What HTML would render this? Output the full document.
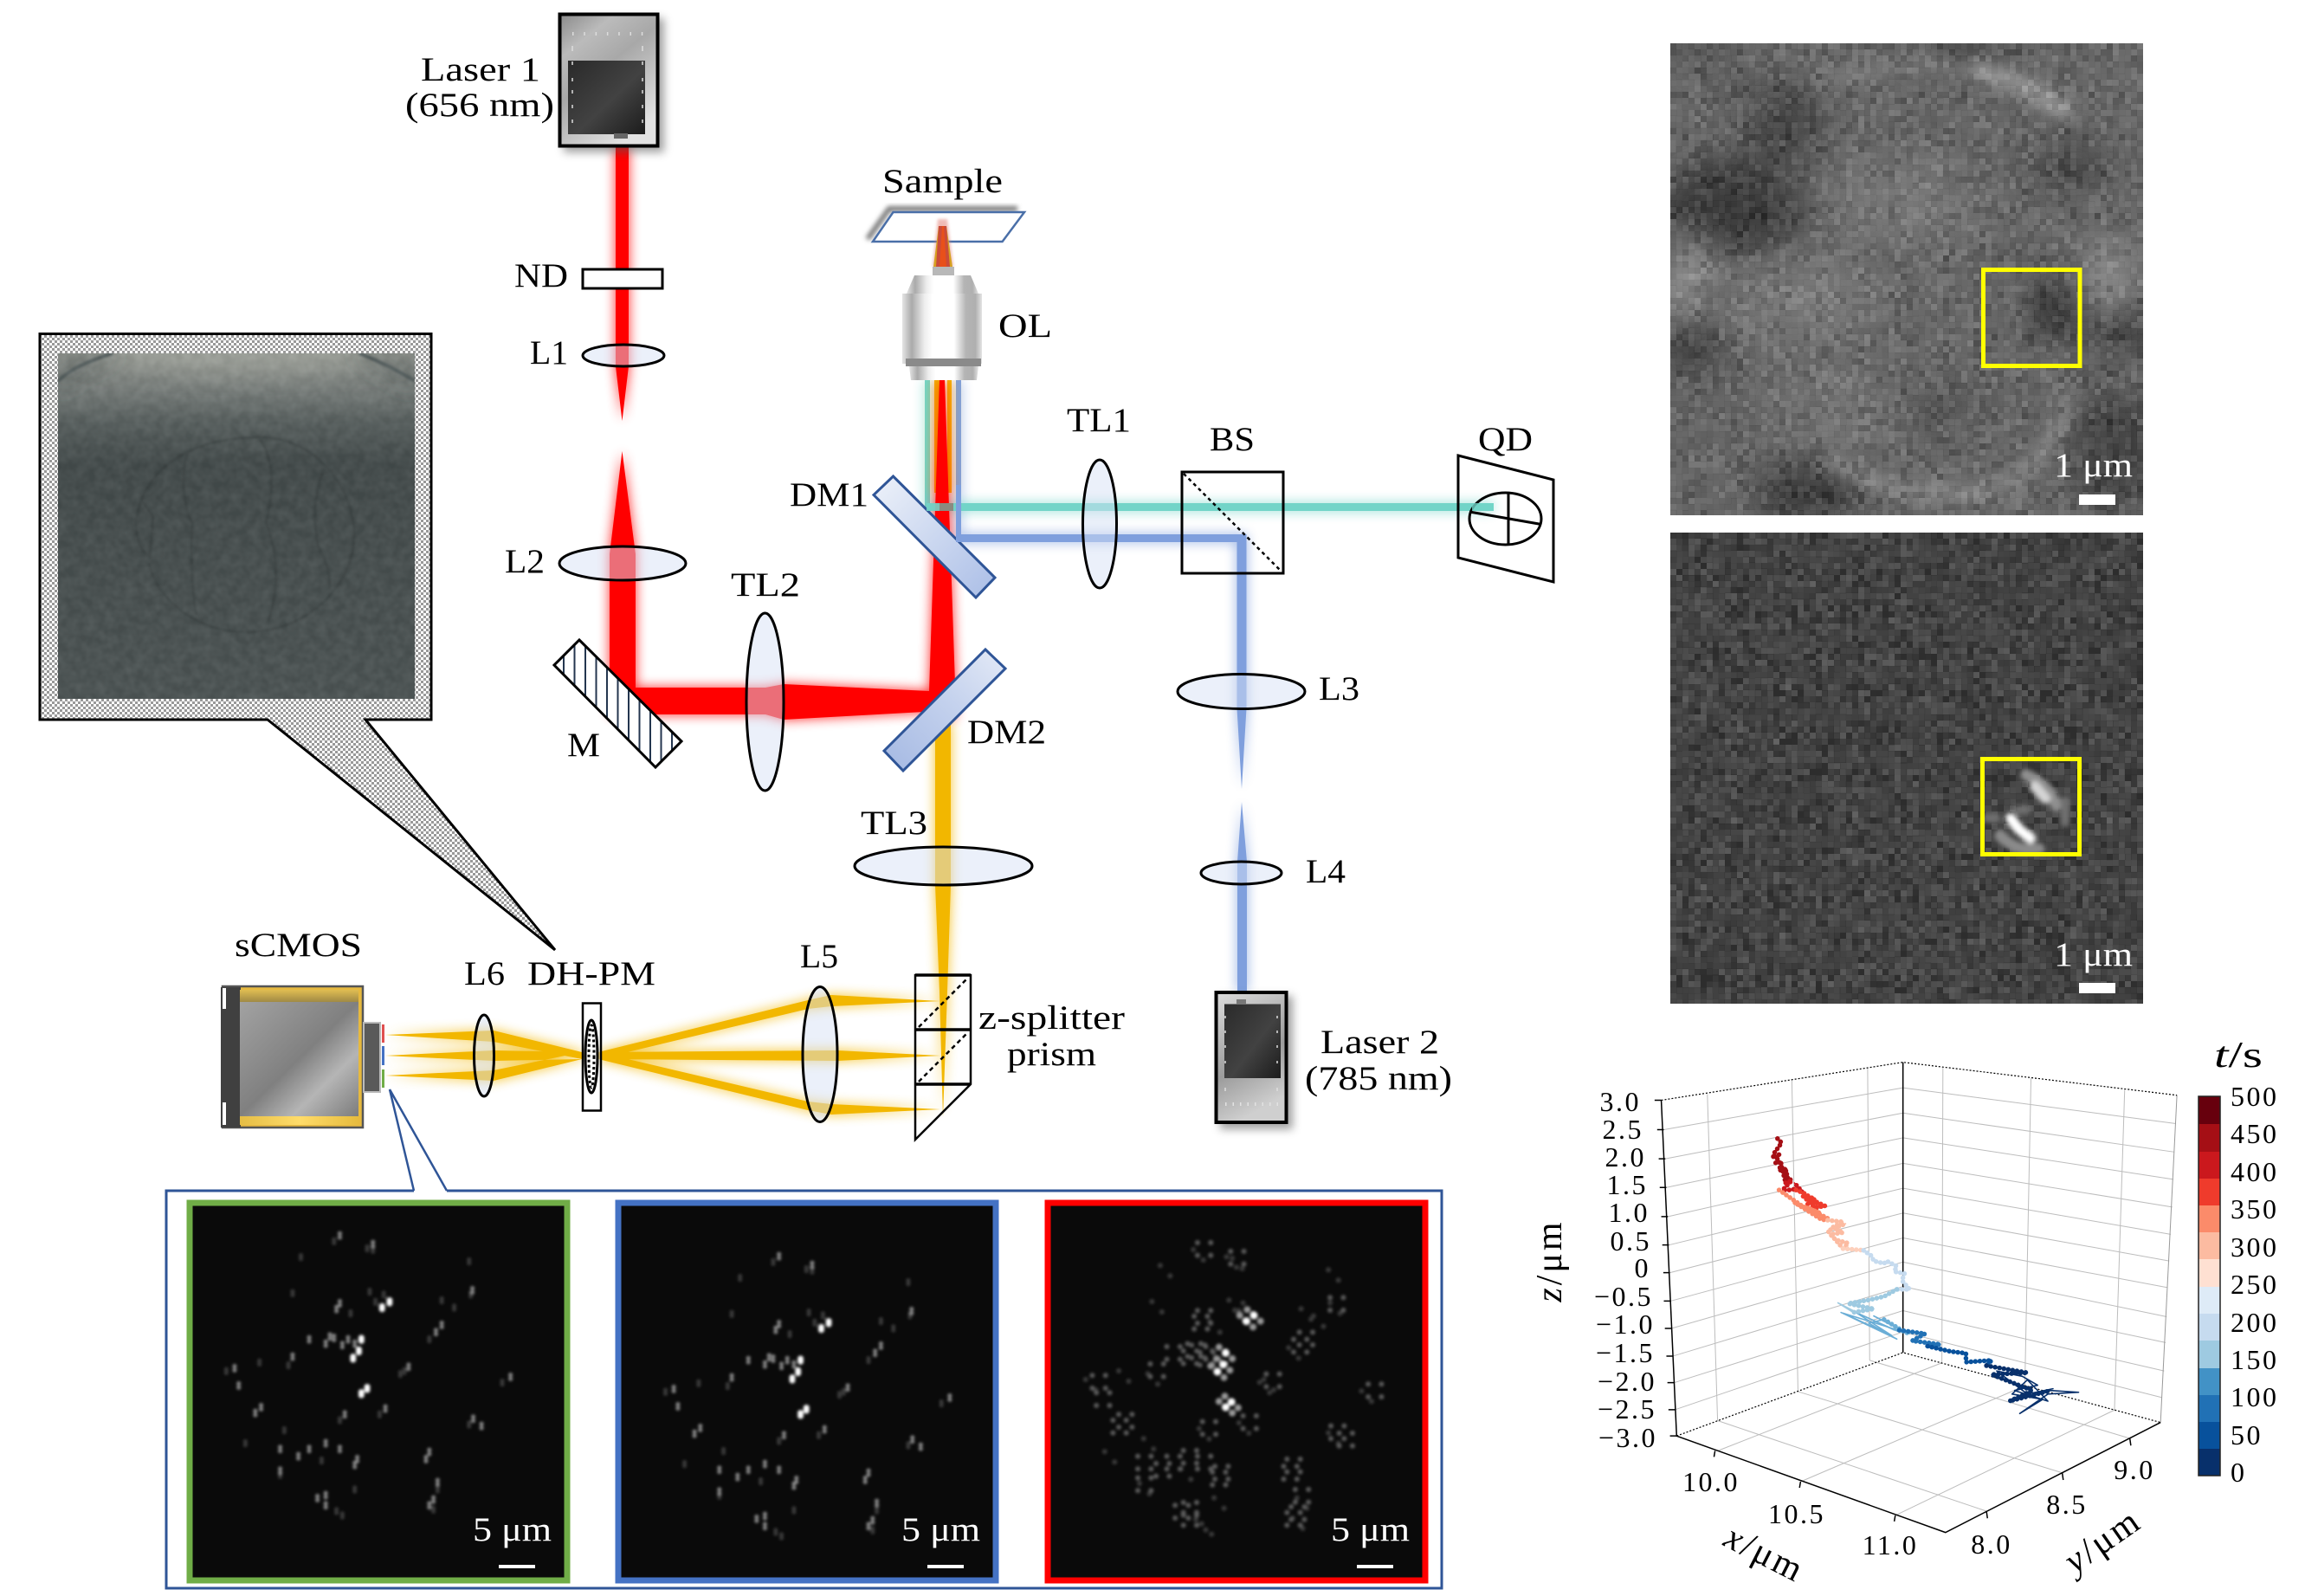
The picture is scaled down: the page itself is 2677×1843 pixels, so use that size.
<!DOCTYPE html>
<html><head><meta charset="utf-8"><style>
html,body{margin:0;padding:0;background:#fff}
svg{display:block}
text{font-family:"Liberation Serif",serif;font-size:39px;fill:#000}
.t{font-size:32px;letter-spacing:2.5px}
.e{text-anchor:end}.m{text-anchor:middle}
.n{vector-effect:non-scaling-stroke;fill:none}
</style></head><body>
<svg width="2677" height="1843" viewBox="0 0 2677 1843" xmlns="http://www.w3.org/2000/svg">
<defs>
<filter id="glow" filterUnits="userSpaceOnUse" x="0" y="0" width="2677" height="1843" color-interpolation-filters="sRGB">
<feGaussianBlur in="SourceGraphic" stdDeviation="7" result="bc"/>
<feComponentTransfer in="bc" result="bd"><feFuncA type="linear" slope=".85"/></feComponentTransfer>
<feMerge><feMergeNode in="bd"/><feMergeNode in="SourceGraphic"/></feMerge>
</filter>
<filter id="b1" x="-20%" y="-20%" width="140%" height="140%"><feGaussianBlur stdDeviation="1.7"/></filter>
<filter id="b2" x="-20%" y="-20%" width="140%" height="140%"><feGaussianBlur stdDeviation="2.6"/></filter>
<filter id="b3" x="-30%" y="-30%" width="160%" height="160%"><feGaussianBlur stdDeviation="5"/></filter>
<filter id="b4" filterUnits="userSpaceOnUse" x="1900" y="0" width="777" height="1200"><feGaussianBlur stdDeviation="20"/></filter>
<filter id="b5" filterUnits="userSpaceOnUse" x="1900" y="0" width="777" height="1200"><feGaussianBlur stdDeviation="9"/></filter>
<filter id="b6" filterUnits="userSpaceOnUse" x="40" y="380" width="470" height="460"><feGaussianBlur stdDeviation="13"/></filter>
<filter id="b7" filterUnits="userSpaceOnUse" x="40" y="380" width="470" height="460"><feGaussianBlur stdDeviation="1.2"/></filter>
<filter id="noise" filterUnits="userSpaceOnUse" primitiveUnits="userSpaceOnUse" x="1929" y="50" width="546" height="545" color-interpolation-filters="sRGB">
<feTurbulence type="fractalNoise" baseFrequency="0.45" numOctaves="1" seed="4"/>
<feColorMatrix type="matrix" values="2 0 0 0 -.5  2 0 0 0 -.5  2 0 0 0 -.5  0 0 0 0 1" result="n"/>
<feFlood x="1932" y="53" width="1" height="1" flood-color="#000"/>
<feComposite x="1929" y="50" width="7" height="7"/>
<feTile x="1929" y="50" width="546" height="545" result="a"/>
<feComposite in="n" in2="a" operator="in"/>
<feMorphology operator="dilate" radius="3"/>
<feColorMatrix type="matrix" values="1 0 0 0 0  0 1 0 0 0  0 0 1 0 0  0 0 0 0 .2"/>
</filter>
<filter id="noise2" filterUnits="userSpaceOnUse" primitiveUnits="userSpaceOnUse" x="1929" y="615" width="546" height="544" color-interpolation-filters="sRGB">
<feTurbulence type="fractalNoise" baseFrequency="0.45" numOctaves="1" seed="11"/>
<feColorMatrix type="matrix" values="2 0 0 0 -.7  2 0 0 0 -.7  2 0 0 0 -.7  0 0 0 0 1" result="n"/>
<feFlood x="1932" y="618" width="1" height="1" flood-color="#000"/>
<feComposite x="1929" y="615" width="7" height="7"/>
<feTile x="1929" y="615" width="546" height="544" result="a"/>
<feComposite in="n" in2="a" operator="in"/>
<feMorphology operator="dilate" radius="3"/>
<feColorMatrix type="matrix" values="1 0 0 0 0  0 1 0 0 0  0 0 1 0 0  0 0 0 0 .22"/>
</filter>
<filter id="noise3" x="0" y="0" width="100%" height="100%" color-interpolation-filters="sRGB">
<feTurbulence type="fractalNoise" baseFrequency="0.09" numOctaves="2" seed="7"/>
<feColorMatrix type="matrix" values="1.2 0 0 0 -.3  1.2 0 0 0 -.3  1.2 0 0 0 -.3  0 0 0 0 .08"/>
</filter>
<pattern id="chk" width="6" height="6" patternUnits="userSpaceOnUse"><rect width="6" height="6" fill="#fff"/><rect width="3" height="3" fill="#999"/><rect x="3" y="3" width="3" height="3" fill="#999"/></pattern>
<pattern id="hatch" width="12.5" height="12" patternUnits="userSpaceOnUse"><rect width="12.5" height="12" fill="#fff"/><rect x="0" width="2" height="12" fill="#24364f"/></pattern>
<linearGradient id="dm1" gradientUnits="userSpaceOnUse" x1="1020" y1="560" x2="1138" y2="678"><stop offset="0" stop-color="#e9eef8"/><stop offset=".5" stop-color="#ccd8f0"/><stop offset="1" stop-color="#b0c2e8"/></linearGradient>
<linearGradient id="dm2" gradientUnits="userSpaceOnUse" x1="1030" y1="878" x2="1150" y2="760"><stop offset="0" stop-color="#a9bce4"/><stop offset=".6" stop-color="#c6d3ee"/><stop offset="1" stop-color="#dfe6f5"/></linearGradient>
<linearGradient id="l1g" x1="0" y1="0" x2=".6" y2="1"><stop offset="0" stop-color="#8a8a8a"/><stop offset=".25" stop-color="#bbb"/><stop offset=".5" stop-color="#a8a8a8"/><stop offset="1" stop-color="#e2e2e2"/></linearGradient>
<linearGradient id="l2g" x1="0" y1="0" x2=".3" y2="1"><stop offset="0" stop-color="#dcdcdc"/><stop offset=".62" stop-color="#9c9c9c"/><stop offset=".8" stop-color="#b4b4b4"/><stop offset="1" stop-color="#cfcfcf"/></linearGradient>
<linearGradient id="ld" x1="0" y1="0" x2="1" y2="1"><stop offset="0" stop-color="#2a2a2a"/><stop offset=".55" stop-color="#424242"/><stop offset="1" stop-color="#1c1c1c"/></linearGradient>
<linearGradient id="ob"><stop offset="0" stop-color="#e4e4e4"/><stop offset=".12" stop-color="#aaa"/><stop offset=".28" stop-color="#eee"/><stop offset=".38" stop-color="#fff"/><stop offset=".65" stop-color="#fff"/><stop offset=".8" stop-color="#b4b4b4"/><stop offset=".92" stop-color="#b0b0b0"/><stop offset="1" stop-color="#e4e4e4"/></linearGradient>
<linearGradient id="cg" x1="0" y1="0" x2="1" y2="1"><stop offset="0" stop-color="#a2a2a2"/><stop offset=".28" stop-color="#8f8f8f"/><stop offset=".5" stop-color="#808080"/><stop offset=".72" stop-color="#b5b5b5"/><stop offset="1" stop-color="#7c7c7c"/></linearGradient>
<linearGradient id="gold" x1="0" y1="0" x2="0" y2="1"><stop offset="0" stop-color="#e0bd52"/><stop offset="1" stop-color="#a08a45"/></linearGradient>
<linearGradient id="gold2"><stop offset="0" stop-color="#e5bd45"/><stop offset=".5" stop-color="#ffdc6a"/><stop offset="1" stop-color="#e6bb3e"/></linearGradient>
<linearGradient id="sky" x1="0" y1="0" x2="0" y2="1"><stop offset="0" stop-color="#8b8f8a"/><stop offset=".1" stop-color="#7c827f"/><stop offset=".2" stop-color="#5a6261"/><stop offset=".32" stop-color="#454d4d"/><stop offset="1" stop-color="#4e5656"/></linearGradient>
<clipPath id="cI"><rect x="1929" y="50" width="546" height="545"/></clipPath>
<clipPath id="cJ"><rect x="1929" y="615" width="546" height="544"/></clipPath>
<clipPath id="cK"><rect x="67" y="408" width="412" height="399"/></clipPath>
<clipPath id="c1"><rect x="222" y="1392" width="430" height="430"/></clipPath>
<clipPath id="c2"><rect x="717" y="1392" width="430" height="430"/></clipPath>
<clipPath id="c3"><rect x="1213" y="1392" width="430" height="430"/></clipPath>
<path id="sB" vector-effect="non-scaling-stroke" d="M282 400h.01M273 420h.01M248 530h.01M245 570h.01M238 595h.01M255 700h.01M248 718h.01"/>
<path id="sM" vector-effect="non-scaling-stroke" d="M222 170h.01M262 200h.01M222 405h.01M218 425h.01M215 525h.01M232 530h.01M205 545h.01M225 550h.01M185 530h.01M345 480h.01M382 360h.01M338 505h.01M165 590h.01M127 765h.01M120 785h.01M383 805h.01M393 830h.01M330 920h.01M326 945h.01M185 910h.01M172 935h.01M205 890h.01M222 910h.01M243 945h.01M240 965h.01M205 1070h.01M195 1080h.01M205 1105h.01M335 1085h.01M330 1105h.01M340 1025h.01M277 770h.01M228 790h.01M305 625h.01M95 630h.01M100 690h.01M428 660h.01M150 910h.01M150 985h.01M240 545h.01M210 520h.01"/>
<path id="sF" vector-effect="non-scaling-stroke" d="M175 245h.01M165 370h.01M378 260h.01M258 365h.01M275 375h.01M345 395h.01M360 420h.01M330 530h.01M125 610h.01M85 640h.01M270 790h.01M222 810h.01M155 845h.01M108 890h.01M378 825h.01M218 1125h.01M240 1050h.01M340 1050h.01M418 680h.01M262 220h.01M300 640h.01M160 620h.01M215 190h.01M255 215h.01M380 375h.01M235 440h.01M200 950h.01M150 1000h.01M225 1140h.01M335 1120h.01M295 650h.01M265 400h.01"/>
</defs>

<rect width="2677" height="1843" fill="#fff"/>

<!-- beams -->
<g filter="url(#glow)">
<path fill="#7f9fdd" d="M1104 439h6V626h-6zM1104 617H1439.5V779H1428.5V626H1104zM1428.5 779H1439.5V818L1434 911 1428.5 818zM1434 926L1440 995V1144H1429V995z"/>
<path fill="#72d4c8" d="M1068 439h6V590h-6zM1068 581H1725V590H1068z"/>
</g>
<g filter="url(#glow)">
<path fill="#f2b700" d="M1079 439h6v130h-6zM1094 439h5v130h-5zM1080 835H1098V1022L1094 1145 1089 1290 1085 1145 1080 1022z"/>
<path fill="#f2b700" d="M445 1195L570 1190 672 1215V1223L570 1203zM445 1219L570 1213 672 1215V1223L570 1225zM445 1242L570 1248 672 1223V1215L570 1236zM691 1215L933 1155 960 1149 1086 1156 960 1162 933 1165 691 1223zM691 1215L967 1213 1086 1219 967 1225 691 1223zM691 1215L933 1272 960 1275 1086 1281 960 1287 933 1282 691 1223z"/>
</g>
<g filter="url(#glow)">
<path fill="#ff0000" d="M711 170H726V423L718.5 486 711 423zM718.5 521L734 640V794H862V825H704V640z"/>
<path fill="#ff0000" d="M862 794H884L905 790 1073 798 1085 439H1091L1103 790V830L1067 822 905 831 884 825H862z"/>
</g>

<!-- Laser 1 -->
<rect x="651" y="21" width="116" height="155" fill="#555" opacity=".55" filter="url(#b3)"/>
<rect x="646.5" y="16.5" width="113" height="152" fill="url(#l1g)" stroke="#000" stroke-width="4"/>
<rect x="656" y="70" width="89" height="85" fill="url(#ld)"/>
<rect x="709" y="154" width="16" height="6" fill="#666"/>
<path d="M661 39H745" stroke="#ddd" stroke-width="4" stroke-dasharray="1.5 11.8" fill="none"/>
<path d="M661 53v6M742 53v6M661 71v4M742 71v4M661 90v4M742 90v4M661 104v4M742 104v4M661 121v4M742 121v4M661 138v4M742 138v4" stroke="#ddd" stroke-width="1.5" fill="none"/>
<!-- ND -->
<rect x="673" y="311" width="92" height="22" fill="#fff" stroke="#000" stroke-width="3"/>
<!-- lenses -->
<g fill="rgb(214,224,245)" fill-opacity=".49" stroke="#000" stroke-width="3">
<ellipse cx="720" cy="410.5" rx="47" ry="12.5"/>
<ellipse cx="719" cy="650.5" rx="73" ry="19.5"/>
<ellipse cx="883.5" cy="810.5" rx="21.5" ry="102.5"/>
<ellipse cx="1270" cy="605" rx="19.5" ry="74"/>
<ellipse cx="1433.5" cy="798.5" rx="73.5" ry="20"/>
<ellipse cx="1433.5" cy="1008" rx="46.5" ry="13"/>
<ellipse cx="1089.5" cy="1000" rx="102.5" ry="22"/>
<ellipse cx="947" cy="1217.5" rx="20" ry="78"/>
<ellipse cx="559" cy="1219" rx="11.5" ry="47"/>
</g>
<!-- Mirror -->
<path d="M669 739L787 856 757 886 640 768z" fill="url(#hatch)" stroke="#000" stroke-width="3"/>
<!-- DMs -->
<path d="M1031.5 550L1149 667 1127 690 1009 571.5z" fill="url(#dm1)" stroke="#2f5597" stroke-width="3"/>
<path d="M1138 750L1161 772 1043 890 1021 867z" fill="url(#dm2)" stroke="#2f5597" stroke-width="3"/>
<!-- horizontal beams over DM1 -->
<rect x="1070" y="581" width="40" height="9" fill="#72d4c8" opacity=".9"/>
<rect x="1085" y="581" width="16" height="9" fill="#8a8a80"/>
<path d="M1104 560h6V626h-6zM1104 617H1150V626H1104z" fill="#7f9fdd"/>
<!-- Sample -->
<path d="M1002 276L1027 241H1175" stroke="#777" stroke-width="6" fill="none" filter="url(#b2)"/>
<path d="M1031.5 245H1183L1157.6 279H1008z" fill="#fff" stroke="#4a6fa8" stroke-width="2.5"/>
<path d="M1077 308L1083 253H1094L1101 308z" fill="#e07a70" opacity=".5" filter="url(#b1)"/>
<path d="M1078 308H1100L1093 261H1084z" fill="#d6a020"/>
<path d="M1081 308H1097L1093 261H1084z" fill="#c94b3a"/>
<path d="M1085 308H1093L1090 261H1088z" fill="#e8501a"/>
<!-- OL -->
<rect x="1077" y="308" width="25" height="10" fill="#b8b8b8"/>
<path d="M1056 318H1121L1130 339H1047z" fill="url(#ob)"/>
<rect x="1042" y="339" width="92" height="81" fill="url(#ob)"/>
<rect x="1046" y="414" width="87" height="9" fill="#8a8a8a"/>
<path d="M1050 423H1130L1128 439H1052z" fill="url(#ob)"/>
<!-- BS -->
<rect x="1365" y="545" width="117" height="117" fill="none" stroke="#000" stroke-width="3"/>
<path d="M1367 547L1480 660" stroke="#000" stroke-width="2.5" stroke-dasharray="4 4" fill="none"/>
<!-- QD -->
<path d="M1684 526L1794 554V672L1684 644z" fill="none" stroke="#000" stroke-width="3"/>
<ellipse cx="1738.5" cy="599" rx="41.5" ry="30" fill="none" stroke="#000" stroke-width="3"/>
<path d="M1742 569V629M1697 591L1780 605.5" stroke="#000" stroke-width="3" fill="none"/>
<rect x="1700" y="581" width="25" height="9" fill="#72d4c8" opacity=".8"/>
<!-- prism -->
<path d="M1057 1126H1121V1252L1057 1316z" fill="none" stroke="#000" stroke-width="2.5"/>
<path d="M1057 1189H1121M1057 1252H1121M1057 1126H1121" fill="none" stroke="#000" stroke-width="3.5"/>
<path d="M1061 1186L1118 1129M1061 1249L1118 1192" stroke="#000" stroke-width="2.5" stroke-dasharray="5 4" fill="none"/>
<!-- DH-PM -->
<rect x="673" y="1158.5" width="21" height="124" fill="#fff" fill-opacity=".5" stroke="#000" stroke-width="2.5"/>
<ellipse cx="683" cy="1220" rx="7" ry="42" fill="#fff" stroke="#000" stroke-width="3"/>
<ellipse cx="683" cy="1220" rx="3" ry="36" fill="#fff" stroke="#000" stroke-width="3" stroke-dasharray="3 3"/>
<!-- sCMOS -->
<path d="M250 1132H412" stroke="#555" stroke-width="14" filter="url(#b2)" fill="none"/>
<path d="M250 1135V1300" stroke="#666" stroke-width="10" filter="url(#b2)" fill="none"/>
<rect x="257" y="1139" width="162" height="163" fill="#e7b93f" stroke="#555" stroke-width="2.5"/>
<rect x="255" y="1140" width="23" height="162" fill="#404040"/>
<path d="M257 1141h4v24h-4zM257 1273h4v26h-4z" fill="#fff"/>
<rect x="277" y="1143" width="137" height="14" fill="url(#gold)"/>
<rect x="277" y="1157" width="137" height="132" fill="url(#cg)"/>
<rect x="277" y="1289" width="137" height="10" fill="url(#gold2)"/>
<rect x="420" y="1181" width="19" height="80" fill="#5a5a5a" stroke="#bbb" stroke-width="2"/>
<rect x="441" y="1183" width="3" height="21" fill="#e05050"/>
<rect x="441" y="1208" width="3" height="22" fill="#4472c4"/>
<rect x="441" y="1235" width="3" height="21" fill="#70ad47"/>
<!-- Laser 2 -->
<rect x="1409" y="1150" width="84" height="154" fill="#555" opacity=".55" filter="url(#b3)"/>
<rect x="1404.5" y="1146" width="81" height="150" fill="url(#l2g)" stroke="#000" stroke-width="4"/>
<rect x="1414" y="1159.5" width="65" height="85.5" fill="url(#ld)"/>
<rect x="1428" y="1154" width="11" height="6" fill="#777"/>
<path d="M1415 1275H1478" stroke="#e2e2e2" stroke-width="4" stroke-dasharray="1.5 7" fill="none"/>
<path d="M1415 1173v3M1475 1173v3M1415 1190v3M1475 1190v3M1415 1207v3M1475 1207v3M1415 1225v3M1475 1225v3M1415 1256v4M1475 1256v4" stroke="#ddd" stroke-width="1.5" fill="none"/>

<!-- callout -->
<path d="M46 385.5H498V831H422L641 1097 309 831H46z" fill="url(#chk)"/>
<path d="M309 831H46V385.5H498V831H422L641 1097z" fill="none" stroke="#000" stroke-width="3"/>
<rect x="67" y="408" width="412" height="399" fill="url(#sky)"/>
<g clip-path="url(#cK)">
<ellipse cx="275" cy="400" rx="190" ry="30" fill="#a2a69f" filter="url(#b6)"/>
<path d="M67 445Q85 422 130 406M479 445Q450 420 415 406" stroke="#4a5351" stroke-width="8" fill="none" filter="url(#b6)"/>
<path d="M67 440Q85 422 130 408M479 440Q450 422 415 408" stroke="#566060" stroke-width="4" fill="none" filter="url(#b7)"/>
<g fill="none" stroke="#2b3232" stroke-width="3" opacity=".32" filter="url(#b7)">
<path d="M163 577C185 525 240 505 300 505C370 505 409 570 409 617C409 680 350 730 285 730C225 730 180 690 172 650"/>
<path d="M217 523C208 540 212 590 222 603C220 640 222 690 227 710"/>
<path d="M300 507C320 535 314 580 307 603C322 640 322 680 310 717"/>
<path d="M375 540C362 570 362 600 367 630C378 650 382 665 380 680"/>
<path d="M163 577L177 597L173 643C160 635 157 620 157 600Z"/>
</g>
<rect x="67" y="408" width="412" height="399" filter="url(#noise3)"/>
</g>

<!-- big frame -->
<path d="M478 1375H192V1834H1665V1375H516" fill="none" stroke="#2f5597" stroke-width="3"/>
<path d="M450 1258L478 1375M450 1258L516 1375" stroke="#2f5597" stroke-width="2.5" fill="none"/>

<!-- panels -->
<rect x="219" y="1389" width="436" height="436" fill="#0a0a0a" stroke="#70ad47" stroke-width="7"/>
<rect x="714" y="1389" width="436" height="436" fill="#0a0a0a" stroke="#4472c4" stroke-width="7"/>
<rect x="1210" y="1389" width="436" height="436" fill="#0a0a0a" stroke="#ff0000" stroke-width="7"/>
<g clip-path="url(#c1)"><g filter="url(#b1)" fill="none" stroke-linecap="round">
<g transform="matrix(.957,0,0,.3333,180,1370)">
<use href="#sF" y="-6" stroke="#3e3e3e" stroke-width="5"/>
<use href="#sF" y="6" stroke="#3e3e3e" stroke-width="5"/>
<use href="#sM" y="-7" stroke="#8c8c8c" stroke-width="5"/>
<use href="#sM" y="7" stroke="#8c8c8c" stroke-width="5"/>
<use href="#sB" y="-5" stroke="#fff" stroke-width="7"/>
<use href="#sB" y="5" stroke="#fff" stroke-width="7"/>
</g>
</g></g>
<g clip-path="url(#c2)"><g filter="url(#b1)" fill="none" stroke-linecap="round">
<g transform="matrix(.957,0,0,.3333,180,1370) translate(530,72)">
<use href="#sF" y="-6" stroke="#3e3e3e" stroke-width="5"/>
<use href="#sF" y="6" stroke="#3e3e3e" stroke-width="5"/>
<use href="#sM" y="-7" stroke="#8c8c8c" stroke-width="5"/>
<use href="#sM" y="7" stroke="#8c8c8c" stroke-width="5"/>
<use href="#sB" y="-5" stroke="#fff" stroke-width="7"/>
<use href="#sB" y="5" stroke="#fff" stroke-width="7"/>
</g>
</g></g>
<g clip-path="url(#c3)"><g filter="url(#b1)" fill="none" stroke-linecap="round">
<g transform="matrix(.957,0,0,.3333,180,1370) translate(1043,47)">
<use href="#sF" x="-6" y="-18" stroke="#3a3a3a" stroke-width="6"/>
<use href="#sF" x="6" y="18" stroke="#3a3a3a" stroke-width="6"/>
<use href="#sM" x="-8" y="-22" stroke="#5c5c5c" stroke-width="6"/>
<use href="#sM" x="8" y="-22" stroke="#5c5c5c" stroke-width="6"/>
<use href="#sM" x="-8" y="22" stroke="#5c5c5c" stroke-width="6"/>
<use href="#sM" x="8" y="22" stroke="#5c5c5c" stroke-width="6"/>
<use href="#sB" x="-8" y="-20" stroke="#999" stroke-width="8"/>
<use href="#sB" x="8" y="20" stroke="#999" stroke-width="8"/>
<use href="#sB" stroke="#fff" stroke-width="9"/>
</g>
</g></g>
<g fill="#fff">
<rect x="576" y="1807" width="42" height="4"/><rect x="1071" y="1807" width="42" height="4"/><rect x="1567" y="1807" width="42" height="4"/>
</g>
<text x="546" y="1779" textLength="91" lengthAdjust="spacingAndGlyphs" style="fill:#fff">5 μm</text>
<text x="1041" y="1779" textLength="91" lengthAdjust="spacingAndGlyphs" style="fill:#fff">5 μm</text>
<text x="1537" y="1779" textLength="91" lengthAdjust="spacingAndGlyphs" style="fill:#fff">5 μm</text>

<!-- top right image -->
<g clip-path="url(#cI)">
<rect x="1929" y="50" width="546" height="545" fill="#5c5c5c"/>
<g filter="url(#b4)">
<ellipse cx="2000" cy="240" rx="85" ry="55" fill="#282828"/>
<ellipse cx="2060" cy="140" rx="50" ry="50" fill="#383838"/>
<ellipse cx="2375" cy="355" rx="36" ry="38" fill="#222"/>
<ellipse cx="2390" cy="190" rx="50" ry="30" fill="#3a3a3a"/>
<ellipse cx="2265" cy="60" rx="70" ry="20" fill="#3a3a3a"/>
<ellipse cx="1950" cy="400" rx="35" ry="35" fill="#2e2e2e"/>
<ellipse cx="2450" cy="380" rx="35" ry="28" fill="#2c2c2c"/>
<ellipse cx="2440" cy="520" rx="50" ry="70" fill="#303030"/>
<ellipse cx="2085" cy="570" rx="60" ry="35" fill="#282828"/>
<ellipse cx="2240" cy="470" rx="60" ry="30" fill="#484848"/>
<ellipse cx="1960" cy="60" rx="40" ry="30" fill="#4a4a4a"/>
<ellipse cx="1950" cy="320" rx="30" ry="40" fill="#8e8e8e"/>
<ellipse cx="2435" cy="315" rx="30" ry="40" fill="#8a8a8a"/>
<ellipse cx="2200" cy="230" rx="80" ry="50" fill="#6e6e6e"/>
<ellipse cx="2090" cy="350" rx="90" ry="50" fill="#707070"/>
<ellipse cx="2120" cy="470" rx="70" ry="40" fill="#6c6c6c"/>
</g>
<g filter="url(#b5)" fill="none">
<path d="M2280 80Q2350 95 2390 135" stroke="#a4a4a4" stroke-width="18"/>
<path d="M2110 530Q2240 600 2330 550Q2370 520 2390 460" stroke="#8c8c8c" stroke-width="12"/>
<path d="M2100 100Q2200 60 2280 80" stroke="#787878" stroke-width="14"/>
</g>
<rect x="1929" y="50" width="546" height="545" filter="url(#noise)"/>
</g>
<rect x="2290.5" y="311.5" width="111.5" height="111" fill="none" stroke="#ffff00" stroke-width="5"/>
<rect x="2401" y="571" width="42" height="12" fill="#fff"/>
<text x="2372" y="550" textLength="91" lengthAdjust="spacingAndGlyphs" style="fill:#fff">1 μm</text>

<!-- second image -->
<g clip-path="url(#cJ)">
<rect x="1929" y="615" width="546" height="544" fill="#3a3a3a"/>
<rect x="1929" y="615" width="546" height="544" filter="url(#noise2)"/>
<g filter="url(#b2)" fill="none" stroke-linecap="round">
<path d="M2310 965Q2330 985 2355 980" stroke="#8a8a8a" stroke-width="13"/>
<path d="M2340 895Q2365 905 2375 930" stroke="#8f8f8f" stroke-width="13"/>
<path d="M2295 945H2305M2385 925V950M2330 935h10" stroke="#707070" stroke-width="10"/>
<path d="M2322 945L2332 958 2345 968" stroke="#fff" stroke-width="12"/>
<path d="M2350 908L2362 922" stroke="#d4d4d4" stroke-width="12"/>
</g>
</g>
<rect x="2289.5" y="876.5" width="112" height="110" fill="none" stroke="#ffff00" stroke-width="5"/>
<rect x="2401" y="1135" width="42" height="12" fill="#fff"/>
<text x="2372" y="1115" textLength="91" lengthAdjust="spacingAndGlyphs" style="fill:#fff">1 μm</text>

<!-- 3D plot (coords in crop space) -->
<g transform="matrix(.5914,0,0,.4098,1750,1200)" fill="none">
<g stroke="#bdbdbd" stroke-width="1">
<path class="n" d="M290 255L757 137L1290 238M293 337L757 208L1287 318M295 418L757 278L1285 395M298 500L757 350L1283 473M300 580L757 420L1280 550M302 658L757 490L1277 625M303 738L757 560L1274 700M305 815L757 628L1272 782M308 893L757 697L1270 855M310 968L757 765L1267 935M312 1044L757 825L1263 1010"/>
<path class="n" d="M375 155L395 1075M540 113L552 993M688 82L692 905M835 80L833 912M1007 110L995 977M1190 140L1170 1045"/>
<path class="n" d="M395 1160L833 912M557 1247L995 977M742 1342L1170 1045M920 1330L395 1075M1068 1222L552 993M1200 1125L692 905"/>
<path class="n" d="M1292 158L1260 1080" stroke="#999"/>
</g>
<g stroke="#000" stroke-width="1.5">
<path class="n" d="M285 172L315 1118L840 1390L1260 1080M757 65V883"/>
<path class="n" d="M390 1160L388 1177M557 1247L555 1264M742 1342L740 1359M920 1330L922 1350M1068 1222L1070 1242M1200 1125L1202 1145M285 172L272 172M290 255L277 255M293 337L280 337M295 418L282 418M298 500L285 500M300 580L287 580M302 658L289 658M303 738L290 738M305 815L292 815M308 893L295 893M310 968L297 968M312 1044L299 1044M315 1118L302 1118"/>
<path class="n" d="M285 172L757 65L1292 158M315 1118L757 883L1260 1080" stroke-dasharray="2 2" stroke-width="1.2"/>
</g>
<g stroke-linecap="round" stroke-linejoin="round" stroke-width="1.6">
<path class="n" stroke="#a50f15" d="M512 280 520 292 506 320 503 335 515 325 508 350 520 345 515 370 530 365 525 385 538 395 528 405 520 360 535 390"/>
<path class="n" stroke="#cb181d" d="M528 405 540 398 522 425 535 425 548 422 560 430 545 405"/>
<path class="n" stroke="#ef3b2c" d="M548 425 565 435 575 445 585 450 570 465 590 460 600 470 580 475 605 470 560 440 590 480"/>
<path class="n" stroke="#fb8b6a" d="M515 425 540 450 560 470 595 490 570 475 610 505 600 510 545 460 585 490"/>
<path class="n" stroke="#fcbba1" d="M610 510 640 515 620 530 640 545 615 550 625 565 650 575 640 590 610 540 645 520"/>
<path class="n" stroke="#fdd0bc" d="M640 590 680 595"/>
<path class="n" stroke="#c6dbef" d="M680 595 695 610 700 625 720 632 725 625 745 640 740 655 760 660 755 680 770 705 745 705"/>
<path class="n" stroke="#9ecae1" d="M745 705 720 725 690 735 650 745 700 760 660 770 630 743 680 780 740 820"/>
<path class="n" stroke="#6baed6" d="M636 770 745 845 690 800 720 790 760 825 700 780 770 830 640 772 735 835 665 770 750 825"/>
<path class="n" stroke="#2171b5" d="M750 820 800 830 775 850 830 860 805 865"/>
<path class="n" stroke="#08519c" d="M805 865 850 880 880 885 880 910 930 905 920 920"/>
<path class="n" stroke="#08306b" d="M920 920 1000 940 930 945 1010 990 965 1020 1045 990 1100 995 1040 1000 985 1055 1030 1015 970 1000 1000 960 1040 1020 975 990 1020 975 990 950 940 935 1000 1000 1050 985"/>
<g stroke-width="5.5" stroke-dasharray="0.1 5">
<path class="n" stroke="#a50f15" d="M512 280 520 292 506 320 503 335 515 325 508 350 520 345 515 370 530 365 525 385 538 395 528 405 520 360 535 390"/>
<path class="n" stroke="#cb181d" d="M528 405 540 398 522 425 535 425 548 422 560 430 545 405"/>
<path class="n" stroke="#ef3b2c" d="M548 425 565 435 575 445 585 450 570 465 590 460 600 470 580 475 605 470 560 440 590 480"/>
<path class="n" stroke="#fb8b6a" d="M515 425 540 450 560 470 595 490 570 475 610 505 600 510 545 460 585 490"/>
<path class="n" stroke="#fcbba1" d="M610 510 640 515 620 530 640 545 615 550 625 565 650 575 640 590 610 540 645 520"/>
<path class="n" stroke="#fdd0bc" d="M640 590 680 595"/>
<path class="n" stroke="#c6dbef" d="M680 595 695 610 700 625 720 632 725 625 745 640 740 655 760 660 755 680 770 705 745 705"/>
<path class="n" stroke="#9ecae1" d="M745 705 720 725 690 735 650 745 700 760 660 770"/>
<path class="n" stroke="#6baed6" d="M720 790 760 825 770 830"/>
<path class="n" stroke="#2171b5" d="M750 820 800 830 775 850 830 860 805 865"/>
<path class="n" stroke="#08519c" d="M805 865 850 880 880 885 880 910 930 905 920 920"/>
<path class="n" stroke="#08306b" d="M920 920 1000 940 930 945 1010 990 965 1020 1045 990"/>
</g>
</g>
</g>

<!-- colorbar -->
<g shape-rendering="crispEdges">
<rect x="2539" y="1266" width="25" height="32" fill="#67000d"/>
<rect x="2539" y="1298" width="25" height="32" fill="#a50f15"/>
<rect x="2539" y="1330" width="25" height="31" fill="#cb181d"/>
<rect x="2539" y="1361" width="25" height="31" fill="#ef3b2c"/>
<rect x="2539" y="1392" width="25" height="31" fill="#fb8b6a"/>
<rect x="2539" y="1423" width="25" height="31" fill="#fcbba1"/>
<rect x="2539" y="1454" width="25" height="32" fill="#fee0d2"/>
<rect x="2539" y="1486" width="25" height="31" fill="#deebf7"/>
<rect x="2539" y="1517" width="25" height="31" fill="#c6dbef"/>
<rect x="2539" y="1548" width="25" height="32" fill="#9ecae1"/>
<rect x="2539" y="1580" width="25" height="31" fill="#4292c6"/>
<rect x="2539" y="1611" width="25" height="31" fill="#2171b5"/>
<rect x="2539" y="1642" width="25" height="31" fill="#08519c"/>
<rect x="2539" y="1673" width="25" height="31" fill="#08306b"/>
</g>
<rect x="2539" y="1266" width="25" height="438" fill="none" stroke="#222" stroke-width="1.5"/>
<text class="t" x="2576" y="1277">500</text><text class="t" x="2576" y="1320">450</text><text class="t" x="2576" y="1364">400</text><text class="t" x="2576" y="1407">350</text><text class="t" x="2576" y="1451">300</text><text class="t" x="2576" y="1494">250</text><text class="t" x="2576" y="1538">200</text><text class="t" x="2576" y="1581">150</text><text class="t" x="2576" y="1624">100</text><text class="t" x="2576" y="1668">50</text><text class="t" x="2576" y="1711">0</text>
<text x="2585" y="1232" class="m" style="font-size:42px" textLength="56" lengthAdjust="spacingAndGlyphs"><tspan font-style="italic">t</tspan>/s</text>
<!-- z ticks -->
<text class="t e" x="1895" y="1283">3.0</text><text class="t e" x="1898" y="1315">2.5</text><text class="t e" x="1901" y="1347">2.0</text><text class="t e" x="1903" y="1379">1.5</text><text class="t e" x="1905" y="1411">1.0</text><text class="t e" x="1907" y="1444">0.5</text><text class="t e" x="1906" y="1475">0</text><text class="t e" x="1909" y="1508">−0.5</text><text class="t e" x="1911" y="1540">−1.0</text><text class="t e" x="1911" y="1573">−1.5</text><text class="t e" x="1913" y="1606">−2.0</text><text class="t e" x="1913" y="1638">−2.5</text><text class="t e" x="1914" y="1671">−3.0</text>
<text class="t m" x="1976" y="1722">10.0</text><text class="t m" x="2075" y="1759">10.5</text><text class="t m" x="2183" y="1795">11.0</text>
<text class="t m" x="2300" y="1794">8.0</text><text class="t m" x="2387" y="1748">8.5</text><text class="t m" x="2465" y="1708">9.0</text>
<text class="m" transform="translate(2032,1806) rotate(27)" style="font-size:42px;letter-spacing:3px"><tspan font-style="italic">x</tspan>/μm</text>
<text class="m" transform="translate(2436,1790) rotate(-35)" style="font-size:42px;letter-spacing:3px"><tspan font-style="italic">y</tspan>/μm</text>
<text class="m" transform="translate(1803,1456) rotate(-90)" style="font-size:42px;letter-spacing:3px"><tspan font-style="italic">z</tspan>/μm</text>

<!-- labels -->
<text x="486" y="93" textLength="138" lengthAdjust="spacingAndGlyphs">Laser 1</text>
<text x="468" y="134" textLength="172" lengthAdjust="spacingAndGlyphs">(656 nm)</text>
<text x="594" y="331" textLength="62" lengthAdjust="spacingAndGlyphs">ND</text>
<text x="612" y="420" textLength="44" lengthAdjust="spacingAndGlyphs">L1</text>
<text x="583" y="661" textLength="46" lengthAdjust="spacingAndGlyphs">L2</text>
<text x="1019" y="222" textLength="139" lengthAdjust="spacingAndGlyphs">Sample</text>
<text x="1153" y="389" textLength="62" lengthAdjust="spacingAndGlyphs">OL</text>
<text x="912" y="584" textLength="91" lengthAdjust="spacingAndGlyphs">DM1</text>
<text x="1232" y="498" textLength="74" lengthAdjust="spacingAndGlyphs">TL1</text>
<text x="1397" y="520" textLength="52" lengthAdjust="spacingAndGlyphs">BS</text>
<text x="1707" y="520" textLength="63" lengthAdjust="spacingAndGlyphs">QD</text>
<text x="844" y="688" textLength="80" lengthAdjust="spacingAndGlyphs">TL2</text>
<text x="655" y="873" textLength="38" lengthAdjust="spacingAndGlyphs">M</text>
<text x="1117" y="858" textLength="91" lengthAdjust="spacingAndGlyphs">DM2</text>
<text x="994" y="963" textLength="77" lengthAdjust="spacingAndGlyphs">TL3</text>
<text x="1523" y="808" textLength="47" lengthAdjust="spacingAndGlyphs">L3</text>
<text x="1508" y="1019" textLength="46" lengthAdjust="spacingAndGlyphs">L4</text>
<text x="1525" y="1216" textLength="137" lengthAdjust="spacingAndGlyphs">Laser 2</text>
<text x="1507" y="1258" textLength="170" lengthAdjust="spacingAndGlyphs">(785 nm)</text>
<text x="1130" y="1188" textLength="169" lengthAdjust="spacingAndGlyphs">z-splitter</text>
<text x="1163" y="1230" textLength="103" lengthAdjust="spacingAndGlyphs">prism</text>
<text x="271" y="1104" textLength="147" lengthAdjust="spacingAndGlyphs">sCMOS</text>
<text x="536" y="1137" textLength="47" lengthAdjust="spacingAndGlyphs">L6</text>
<text x="609" y="1137" textLength="148" lengthAdjust="spacingAndGlyphs">DH-PM</text>
<text x="924" y="1117" textLength="44" lengthAdjust="spacingAndGlyphs">L5</text>
</svg>
</body></html>
